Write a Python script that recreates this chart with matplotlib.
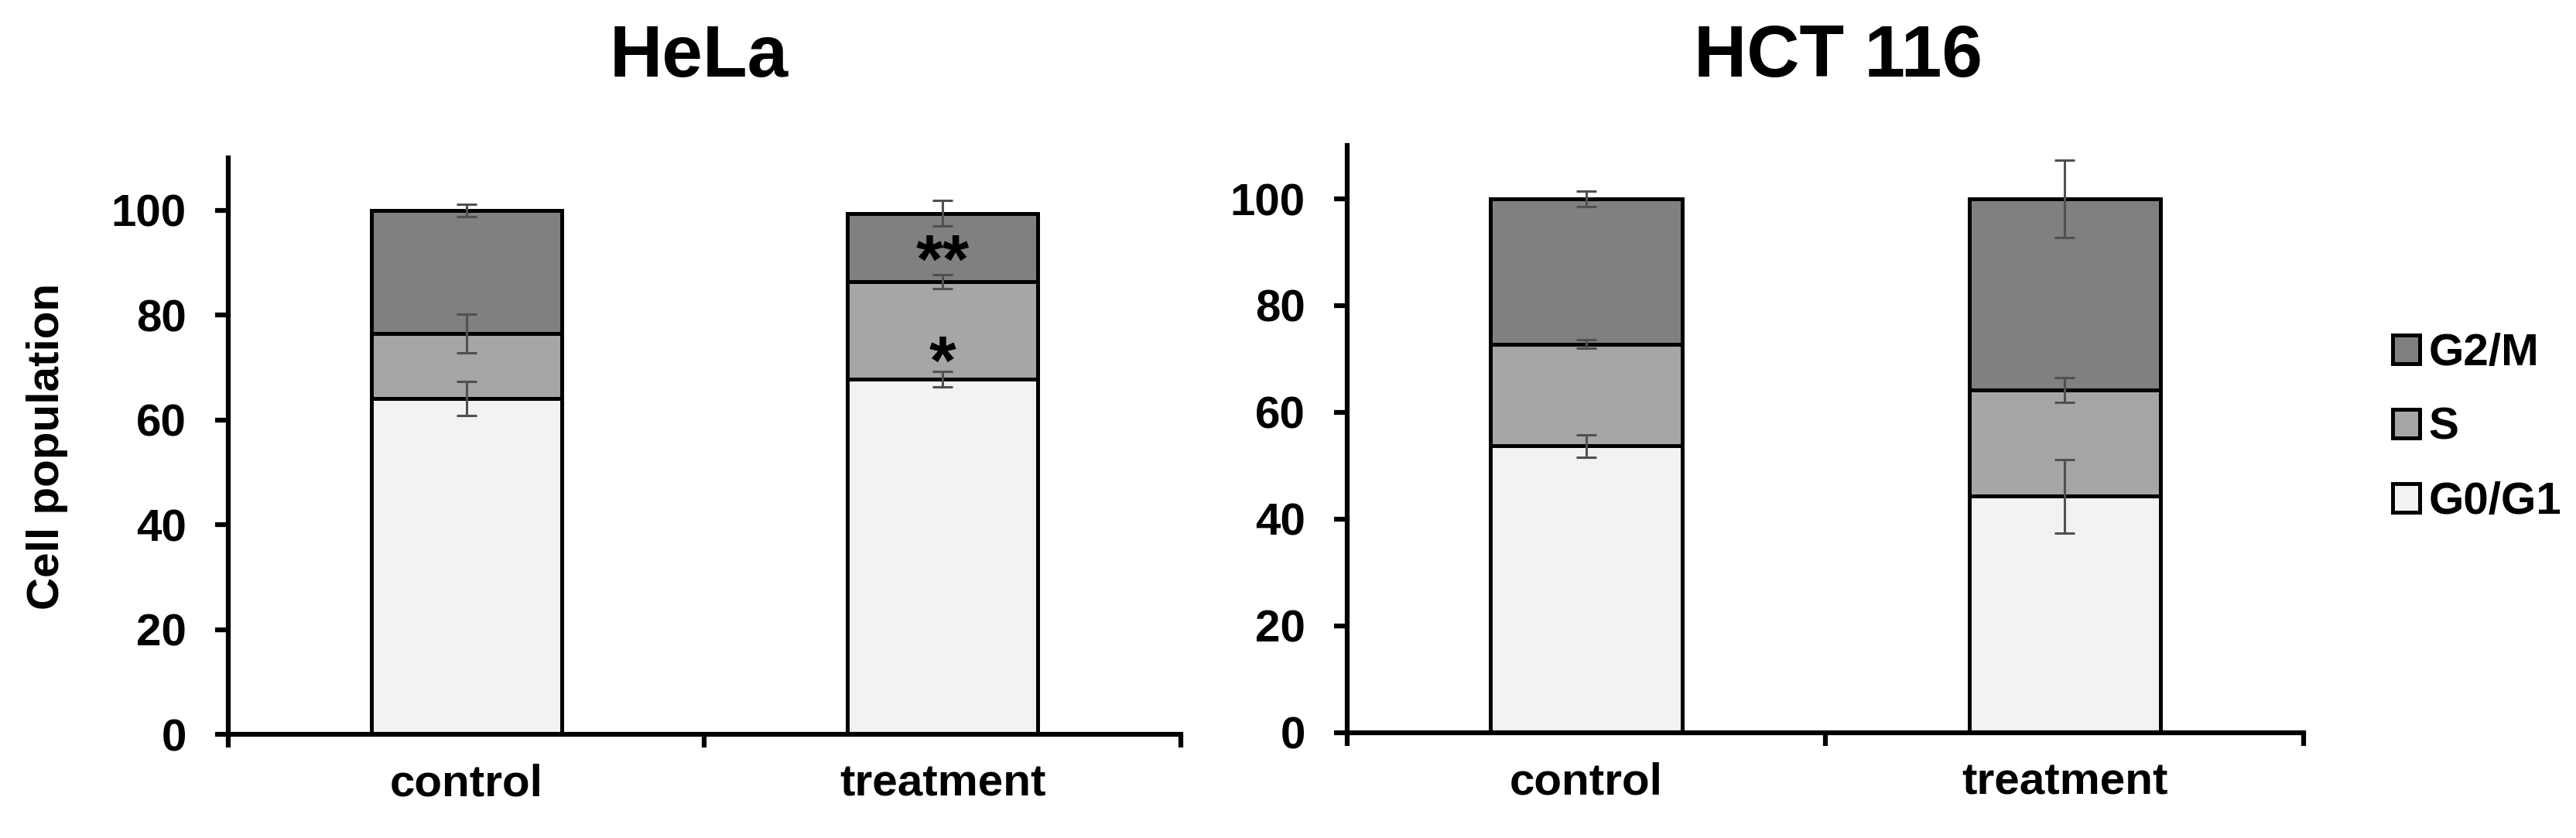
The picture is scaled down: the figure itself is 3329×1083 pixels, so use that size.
"""
Stacked cell-cycle phase distribution for HeLa and HCT 116.
"""

import numpy as np
import matplotlib

matplotlib.use("Agg")
import matplotlib.pyplot as plt

plt.rcParams["font.family"] = ["Liberation Sans", "DejaVu Sans"]
plt.rcParams["font.weight"] = "bold"

CATEGORIES = ["control", "treatment"]
PHASES = ["G0/G1", "S", "G2/M"]
COLORS = ["#f2f2f2", "#a6a6a6", "#808080"]

# HeLa
hela_g0g1 = [64.1, 67.8]
hela_s = [12.4, 18.6]
hela_g2m = [23.5, 13.0]
hela_g0g1_err = [3.2, 1.5]
hela_s_err = [3.7, 1.3]
hela_g2m_err = [1.2, 2.4]

# HCT 116
hct_g0g1 = [53.7, 44.3]
hct_s = [19.1, 19.9]
hct_g2m = [27.2, 35.8]
hct_g0g1_err = [2.1, 6.9]
hct_s_err = [0.8, 2.35]
hct_g2m_err = [1.5, 7.2]

# significance marks (treatment bar of HeLa)
hela_stars = ["**", "*"]
hela_star_y = [86.3, 66.9]

SPINE_LW = 4.5
BAR_LW = 3.6


def draw_panel(ax, segments, errors):
    x = np.arange(len(CATEGORIES))
    bottom = np.zeros(len(CATEGORIES))
    for seg, err, color, label in zip(segments, errors, COLORS, PHASES):
        ax.bar(x, seg, width=0.4, bottom=bottom, color=color,
               edgecolor="black", linewidth=BAR_LW, label=label, zorder=2)
        top = bottom + np.array(seg)
        ax.errorbar(x, top, yerr=err, fmt="none", ecolor="#505050",
                    elinewidth=2.2, capsize=9.5, capthick=2.2, zorder=3)
        bottom = top

    ax.set_xlim(-0.5, 1.5)
    ax.set_ylim(0, 110)
    ax.set_yticks(np.arange(0, 101, 20))
    ax.set_xticks([-0.5, 0.5, 1.5])
    ax.set_xticklabels([])
    ax.set_xticks(x, minor=True)
    ax.set_xticklabels(CATEGORIES, minor=True)
    ax.tick_params(axis="x", which="major", direction="out", length=12,
                   width=SPINE_LW)
    ax.tick_params(axis="x", which="minor", length=0, pad=27, labelsize=42)
    ax.tick_params(axis="y", direction="out", length=12, width=SPINE_LW,
                   pad=27, labelsize=42)
    for side in ["top", "right"]:
        ax.spines[side].set_visible(False)
    for side in ["left", "bottom"]:
        ax.spines[side].set_linewidth(SPINE_LW)


fig = plt.figure(figsize=(33.29, 10.83), dpi=100)
ax1 = fig.add_axes([0.0886, 0.1237, 0.3698, 0.688])
ax2 = fig.add_axes([0.523, 0.1256, 0.3713, 0.7008])

draw_panel(ax1, [hela_g0g1, hela_s, hela_g2m],
           [hela_g0g1_err, hela_s_err, hela_g2m_err])
draw_panel(ax2, [hct_g0g1, hct_s, hct_g2m],
           [hct_g0g1_err, hct_s_err, hct_g2m_err])

for star, y in zip(hela_stars, hela_star_y):
    ax1.text(1, y, star, ha="center", va="baseline", fontsize=64,
             fontweight="bold", zorder=4)

ax1.set_ylabel("Cell population", fontsize=42, fontweight="bold", labelpad=40)

fig.text(0.2713, 0.9086, "HeLa", ha="center", va="baseline", fontsize=68,
         fontweight="bold")
fig.text(0.7137, 0.9086, "HCT 116", ha="center", va="baseline", fontsize=68,
         fontweight="bold")

handles, labels = ax2.get_legend_handles_labels()
fig.legend(handles[::-1], labels[::-1], loc="center left",
           bbox_to_anchor=(0.9288, 0.4894), frameon=False, fontsize=42,
           handlelength=0.6, handleheight=0.6, handletextpad=0.2,
           labelspacing=0.72, borderpad=0, borderaxespad=0)

fig.savefig("out.png", dpi=100)
